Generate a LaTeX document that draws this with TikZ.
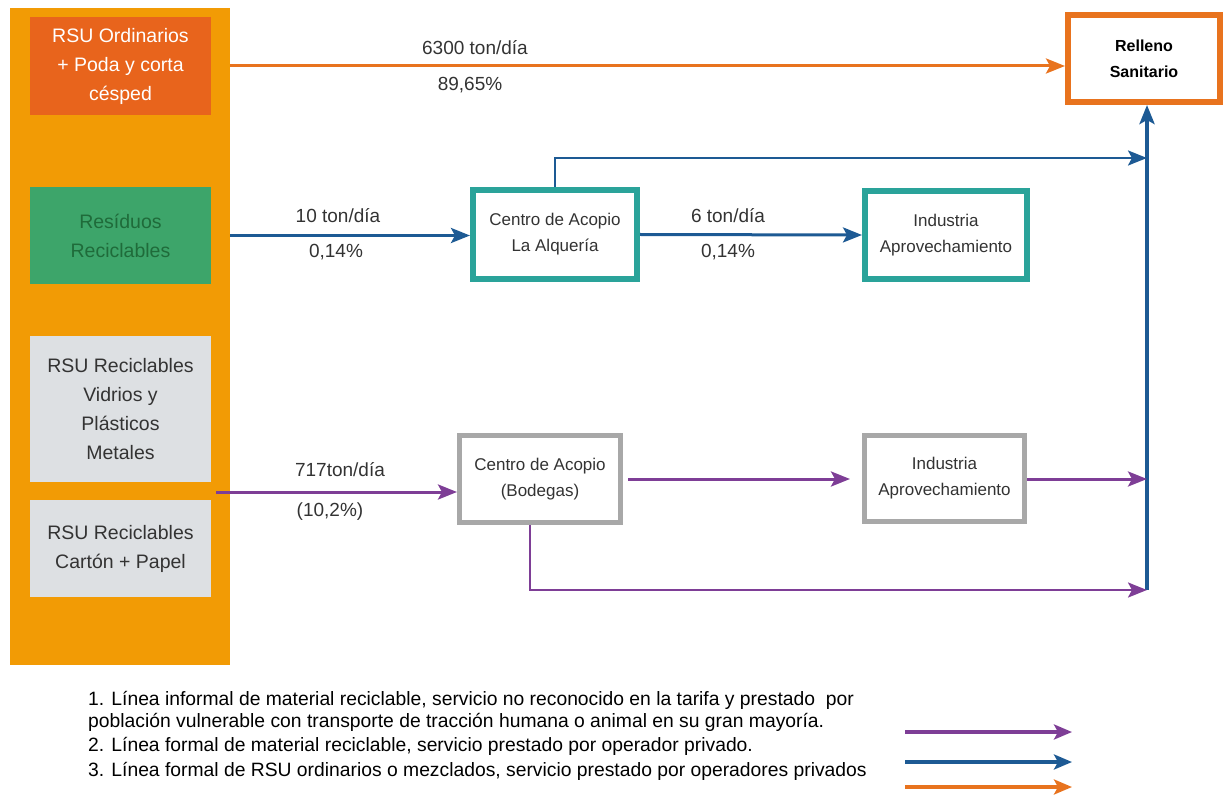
\documentclass[tikz,border=0pt]{standalone}
\usepackage{fontspec}
\setmainfont{Liberation Sans}
\usetikzlibrary{arrows.meta}

\definecolor{colorange}{HTML}{F29B05}
\definecolor{rsuorange}{HTML}{E8641C}
\definecolor{lineorange}{HTML}{E8731E}
\definecolor{recgreen}{HTML}{3DA56A}
\definecolor{recgreentext}{HTML}{1F6B3A}
\definecolor{boxgray}{HTML}{DDE0E3}
\definecolor{flowblue}{HTML}{1D5A94}
\definecolor{tealline}{HTML}{2AA39A}
\definecolor{flowpurple}{HTML}{7E3E96}
\definecolor{bordergray}{HTML}{A8A8A8}
\definecolor{textgray}{HTML}{333333}

\tikzset{
  srcbox/.style={minimum width=181pt, inner sep=0pt, align=center,
    font=\fontsize{19.5}{29}\selectfont},
  stagebox/.style={draw, line width=6pt, fill=white, inner sep=0pt,
    align=center, text=textgray, font=\fontsize{17}{26}\selectfont},
  flow/.style={line width=3pt, -{Stealth[length=19pt,width=15pt,inset=4pt]}},
  keyarrow/.style={line width=4pt, -{Stealth[length=18pt,width=15pt,inset=4pt]}},
  flowlabel/.style={text=textgray, font=\fontsize{19}{24}\selectfont, inner sep=0pt},
  legendtext/.style={anchor=west, inner sep=0pt, text=black,
    font=\fontsize{19.3}{22}\selectfont},
}

\begin{document}
\begin{tikzpicture}[x=1pt, y=-1pt]
\useasboundingbox (0,0) rectangle (1223,799);

% source column
\node[fill=colorange, minimum width=220pt, minimum height=657pt, inner sep=0pt] (col) at (120,336.5) {};
\node[srcbox, fill=rsuorange, minimum height=98pt, text=white] (rsu) at (120.5,66)
  {RSU Ordinarios\\+ Poda y corta\\césped};
\node[srcbox, fill=recgreen, minimum height=97pt, text=recgreentext] (res) at (120.5,235.5)
  {Resíduos\\Reciclables};
\node[srcbox, fill=boxgray, minimum height=146pt, text=textgray] (rvp) at (120.5,409)
  {RSU Reciclables\\Vidrios y\\Plásticos\\Metales};
\node[srcbox, fill=boxgray, minimum height=97pt, text=textgray] (rcp) at (120.5,548.5)
  {RSU Reciclables\\Cartón + Papel};

% stages
\node[stagebox, draw=lineorange, minimum width=152pt, minimum height=87pt, text=black,
  font=\bfseries\fontsize{16}{26}\selectfont] (rel) at (1144,58.5) {Relleno\\Sanitario};
\node[stagebox, draw=tealline, minimum width=164pt, minimum height=89pt] (ca1) at (555,234.5)
  {Centro de Acopio\\La Alquería};
\node[stagebox, draw=tealline, minimum width=162pt, minimum height=88pt] (ia1) at (946,235)
  {Industria\\Aprovechamiento};
\node[stagebox, draw=bordergray, line width=5pt, minimum width=161pt, minimum height=87pt] (ca2) at (540,479)
  {Centro de Acopio\\(Bodegas)};
\node[stagebox, draw=bordergray, line width=5pt, minimum width=160pt, minimum height=86pt] (ia2) at (944.5,478.5)
  {Industria\\Aprovechamiento};

% junction points on the return trunk
\coordinate (trunktop) at (1147,158);
\coordinate (trunkbot) at (1147,590);
\coordinate (pstart) at (216,492);

% orange line
\draw[flow, lineorange] (rsu.east -| col.east) -- (rsu.east -| rel.west);
\node[flowlabel] (l1) at (475,48) {6300 ton/día};
\node[flowlabel] (l2) at (470,85) {89,65\%};

% blue lines
\draw[flow, flowblue] (res.east -| col.east) -- (ca1.west |- res.east);
\draw[flow, flowblue] (ca1.east) -- (ia1.west);
\draw[flow, flowblue, line width=2.5pt] (ca1.north) |- (trunktop);
\draw[flow, flowblue, line width=4.5pt] (trunkbot) -- (trunkbot |- rel.south);
\node[flowlabel] (l3) at (338,216) {10 ton/día};
\node[flowlabel] (l4) at (336,252) {0,14\%};
\node[flowlabel] (l5) at (728,216) {6 ton/día};
\node[flowlabel] (l6) at (728,252) {0,14\%};

% purple lines
\draw[flow, flowpurple] (pstart) -- (ca2.west |- pstart);
\draw[flow, flowpurple, shorten <=5pt, shorten >=12pt] (ca2.east) -- (ia2.west |- ca2.east);
\draw[flow, flowpurple] (ia2.east |- ca2.east) -- (trunktop |- ca2.east);
\draw[flow, flowpurple, line width=2.5pt] ([xshift=-10pt]ca2.south) |- (trunkbot);
\node[flowlabel] (l7) at (340,470) {717ton/día};
\node[flowlabel] (l8) at (330,512) {(10,2\%)};

% legend
\node[legendtext] (t1) at (88,700) {1. Línea informal de material reciclable, servicio no reconocido en la tarifa y prestado\ \ por};
\node[legendtext] (t2) at (88,722) {población vulnerable con transporte de tracción humana o animal en su gran mayoría.};
\node[legendtext] (t3) at (88,746) {2. Línea formal de material reciclable, servicio prestado por operador privado.};
\node[legendtext] (t4) at (88,771) {3. Línea formal de RSU ordinarios o mezclados, servicio prestado por operadores privados};

\coordinate (k1a) at (905,732);  \coordinate (k1b) at (1072,732);
\coordinate (k2a) at (905,762);  \coordinate (k2b) at (1072,762);
\coordinate (k3a) at (905,787);  \coordinate (k3b) at (1072,787);
\draw[keyarrow, flowpurple] (k1a) -- (k1b);
\draw[keyarrow, flowblue] (k2a) -- (k2b);
\draw[keyarrow, lineorange] (k3a) -- (k3b);
\end{tikzpicture}
\end{document}
